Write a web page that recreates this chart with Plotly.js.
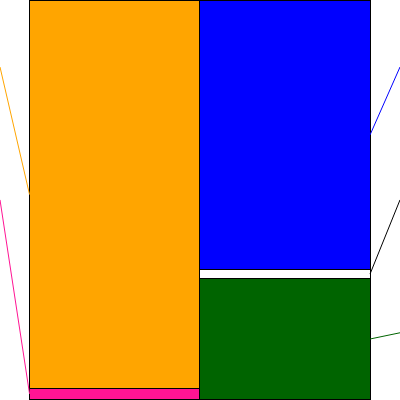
<!DOCTYPE html>
<html>
<head>
<meta charset="utf-8">
<script src="https://cdn.plot.ly/plotly-3.0.1.min.js"></script>
<style>
  html, body { margin: 0; padding: 0; background: #fff; }
  #chart { width: 400px; height: 400px; }
</style>
</head>
<body>
<div id="chart"></div>
<script>
// ── data (percent of total, stacked bottom → top) ────────────────────────────
const categories   = ['資産', '負債・純資産'];
const assetNames   = ['固定資産', '流動資産'];
const assetValues  = [2.7, 97.3];
const assetColors  = ['#ff1493', '#ffa500'];
const liabNames    = ['純資産', '固定負債', '流動負債'];
const liabValues   = [30.2, 2.4, 67.4];
const liabColors   = ['#006400', '#ffffff', '#0000ff'];

(function () {

  const xRange = [-0.6735, 1.676];
  const yRange = [-0.2, 100.15];

  function buildStack(catIndex, names, values, colors) {
    return values.map(function (v, i) {
      const y = [null, null];
      y[catIndex] = v;
      return {
        type: 'bar',
        x: categories,
        y: y,
        name: names[i],
        width: 1,
        marker: { color: colors[i], line: { color: '#000', width: 1 } },
        hoverinfo: 'name+y',
      };
    });
  }

  // leader lines from label slots (outside the plot) to segment middles
  function leaders(catIndex, values, colors, side) {
    const shapes = [];
    const n = 3;
    let base = 0;
    const mids = values.map(function (v) { const m = base + v / 2; base += v; return m; });
    // labels go top → bottom, segments are stored bottom → top
    for (let k = 0; k < values.length; k++) {
      const i = values.length - 1 - k;
      const slotY = 100 * (1 - (k + 0.5) / n);
      const edgeX = side === 'left' ? catIndex - 0.5 : catIndex + 0.5;
      const outX  = side === 'left' ? xRange[0] : xRange[1];
      const col = colors[i].toLowerCase() === '#ffffff' ? '#000' : colors[i];
      shapes.push({
        type: 'line', xref: 'x', yref: 'y',
        x0: outX, y0: slotY, x1: edgeX, y1: mids[i],
        line: { color: col, width: 1 },
      });
    }
    return shapes;
  }

  const traces = buildStack(0, assetNames, assetValues, assetColors)
    .concat(buildStack(1, liabNames, liabValues, liabColors));

  const layout = {
    width: 400,
    height: 400,
    margin: { t: 0, r: 0, b: 0, l: 0 },
    paper_bgcolor: '#fff',
    plot_bgcolor: '#fff',
    barmode: 'stack',
    bargap: 0,
    showlegend: false,
    xaxis: { type: 'category', range: xRange, visible: false, fixedrange: true },
    yaxis: { range: yRange, visible: false, fixedrange: true },
    shapes: leaders(0, assetValues, assetColors, 'left')
      .concat(leaders(1, liabValues, liabColors, 'right')),
  };

  Plotly.newPlot('chart', traces, layout, { displayModeBar: false, staticPlot: true });

}());
</script>
</body>
</html>
